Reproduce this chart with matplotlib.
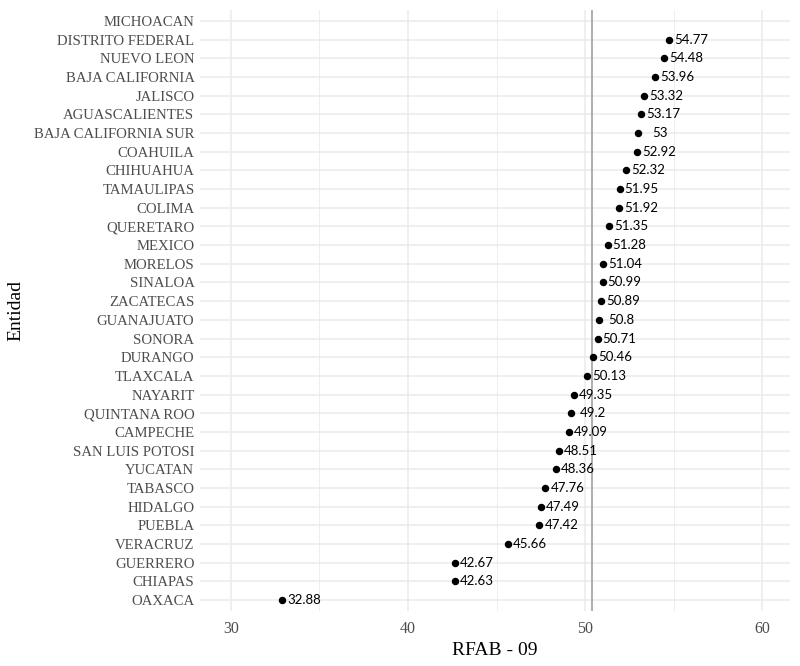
import numpy as np
import matplotlib
matplotlib.use('Agg')
import matplotlib.pyplot as plt

# Entidades (de abajo hacia arriba) y valores RFAB - 09
entidades = ['OAXACA', 'CHIAPAS', 'GUERRERO', 'VERACRUZ', 'PUEBLA', 'HIDALGO',
             'TABASCO', 'YUCATAN', 'SAN LUIS POTOSI', 'CAMPECHE', 'QUINTANA ROO',
             'NAYARIT', 'TLAXCALA', 'DURANGO', 'SONORA', 'GUANAJUATO', 'ZACATECAS',
             'SINALOA', 'MORELOS', 'MEXICO', 'QUERETARO', 'COLIMA', 'TAMAULIPAS',
             'CHIHUAHUA', 'COAHUILA', 'BAJA CALIFORNIA SUR', 'AGUASCALIENTES',
             'JALISCO', 'BAJA CALIFORNIA', 'NUEVO LEON', 'DISTRITO FEDERAL', 'MICHOACAN']
rfab = [32.88, 42.63, 42.67, 45.66, 47.42, 47.49, 47.76, 48.36, 48.51, 49.09, 49.2,
        49.35, 50.13, 50.46, 50.71, 50.8, 50.89, 50.99, 51.04, 51.28, 51.35, 51.92,
        51.95, 52.32, 52.92, 53.0, 53.17, 53.32, 53.96, 54.48, 54.77, np.nan]
referencia = 50.4

fig = plt.figure(figsize=(8, 6.66), dpi=100)
ax = fig.add_axes([0.25, 0.0823, 0.738, 0.903])

y = np.arange(len(entidades))
ax.axvline(referencia, color='#999999', lw=1.1, zorder=2)
ax.scatter(rfab, y, s=19, color='black', zorder=3)
for yi, v in zip(y, rfab):
    if np.isnan(v):
        continue
    ax.text(v + 1.24, yi, f'{v:g}', ha='center', va='center', fontsize=9.5,
            family='Lato', color='black', zorder=4)

ax.set_xlim(28.25, 61.6)
ax.set_ylim(-0.6, len(entidades) - 0.4)
ax.set_xticks([30, 40, 50, 60])
ax.set_xticks([35, 45, 55], minor=True)
ax.set_yticks(y)
ax.set_yticklabels(entidades)

ax.grid(which='major', color='#ebebeb', lw=1.1)
ax.grid(which='minor', axis='x', color='#ebebeb', lw=0.6)
ax.set_axisbelow(True)
for s in ax.spines.values():
    s.set_visible(False)
ax.tick_params(which='both', length=0)
ax.tick_params(axis='y', labelsize=10.6, labelcolor='#4d4d4d', pad=4)
ax.tick_params(axis='x', labelsize=11.5, labelcolor='#4d4d4d', pad=7)
for lab in ax.get_xticklabels() + ax.get_yticklabels():
    lab.set_family('Liberation Serif')
ax.set_xlabel('RFAB - 09', fontsize=14, family='Liberation Serif', labelpad=4)
ax.set_ylabel('Entidad', fontsize=14, family='Liberation Serif', labelpad=7)

fig.savefig('out.png', dpi=100)
